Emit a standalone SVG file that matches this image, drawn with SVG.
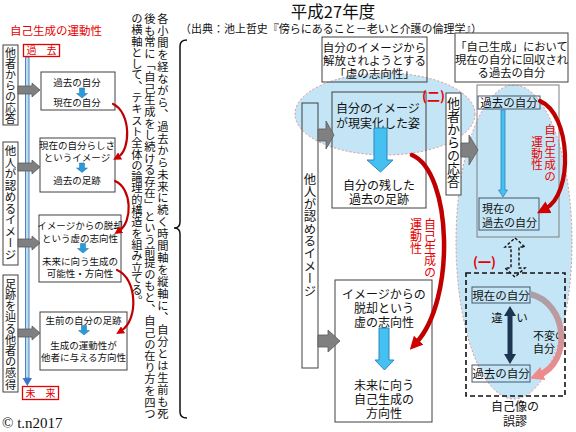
<svg xmlns="http://www.w3.org/2000/svg" width="576" height="432" viewBox="0 0 576 432">
<defs>
<style>
text{font-family:"Noto Sans CJK JP","Noto Sans CJK SC",sans-serif;fill:#111;}
.v{writing-mode:vertical-rl;}
.red{fill:#e60000;}
.c{text-anchor:middle;}
.box{fill:#fff;stroke:#404040;stroke-width:1;}
.obox{fill:none;stroke:#404040;stroke-width:1;}
.gbox{fill:none;stroke:#44596a;stroke-width:1;}
.gray{fill:#808080;stroke:#5a5a5a;stroke-width:0.8;}
.sblue{fill:#2a9ad8;stroke:#1b6fa8;stroke-width:0.5;}
.bblue{fill:#45c0f0;stroke:#2a88c0;stroke-width:1;}
.rc{fill:none;stroke:#c00000;stroke-linecap:round;}
.fs10{font-size:9.5px;}
.fs12{font-size:11.5px;}
</style>
<linearGradient id="pg" x1="0" y1="0" x2="0" y2="1">
<stop offset="0" stop-color="#a8a0a8"/>
<stop offset="1" stop-color="#f08a8a"/>
</linearGradient>
<marker id="ahS" viewBox="0 0 10 10" refX="3" refY="5" markerUnits="userSpaceOnUse" markerWidth="8" markerHeight="8" orient="auto"><path d="M0,0 L10,5 L0,10 Z" fill="#d00000"/></marker>
<marker id="ahM" viewBox="0 0 10 10" refX="3" refY="5" markerUnits="userSpaceOnUse" markerWidth="13" markerHeight="13" orient="auto"><path d="M0,0 L10,5 L0,10 Z" fill="#d00000"/></marker>
<marker id="ahP" viewBox="0 0 10 10" refX="3" refY="5" markerUnits="userSpaceOnUse" markerWidth="14" markerHeight="14" orient="auto"><path d="M0,0 L10,5 L0,10 Z" fill="#f08a8a"/></marker>
</defs>
<rect width="576" height="432" fill="#fff"/>

<!-- background ellipses -->
<g id="ellipse-two"><ellipse cx="385" cy="114" rx="90" ry="41" fill="#c4e5f5" stroke="#e07878" stroke-width="0.8" stroke-dasharray="2,2"/></g>
<g id="ellipse-one"><ellipse cx="514" cy="242" rx="58" ry="157" fill="#c4e5f5" stroke="#e07878" stroke-width="0.8" stroke-dasharray="2,2"/></g>

<!-- LEFT PANEL -->
<g id="left-title"><text x="10" y="35" class="red" font-size="11.5">自己生成の運動性</text></g>
<g id="timeline"><rect x="25.5" y="57" width="3.5" height="321" fill="#bcdcf0" stroke="#3b78c0" stroke-width="0.9"/><path d="M22.5,378 L32,378 L27.25,386 Z" fill="#3b78c0"/></g>
<g id="past"><rect x="23.5" y="44.5" width="36" height="12" fill="#fff" stroke="#e60000" stroke-width="1.3"/><text x="41.5" y="54" class="red c" font-size="10">過　去</text></g>
<g id="future"><rect x="22.5" y="386.5" width="36" height="13" fill="#fff" stroke="#e60000" stroke-width="1.3"/><text x="40.5" y="397" class="red c" font-size="10">未　来</text></g>

<g id="side-a"><rect x="3" y="45" width="15" height="80" class="box"/><text x="10.5" y="47" class="v" font-size="11">他者からの応答</text></g>
<g id="side-b"><rect x="3" y="142" width="15" height="123" class="box"/><text x="10.5" y="145" class="v" font-size="11.5">他人が認めるイメージ</text></g>
<g id="side-c"><rect x="3" y="275" width="15" height="117" class="box"/><text x="10.5" y="278" class="v" font-size="11.2">足跡を辿る他者の感得</text></g>

<g id="box1"><rect x="41" y="72" width="74" height="38" class="box"/>
<text x="77" y="86" class="c fs10">過去の自分</text>
<path d="M79.5,88 L84.5,88 L84.5,93.5 L87.5,93.5 L82,98 L76.5,93.5 L79.5,93.5 Z" class="sblue"/>
<text x="77" y="106" class="c fs10">現在の自分</text></g>

<g id="box2"><rect x="40" y="138" width="75" height="54" class="box"/>
<text x="77" y="149" class="c fs10">現在の自分らしさ</text>
<text x="77" y="161" class="c fs10">というイメージ</text>
<path d="M79.5,163 L84.5,163 L84.5,168 L87.5,168 L82,172.5 L76.5,168 L79.5,168 Z" class="sblue"/>
<text x="77" y="184" class="c fs10">過去の足跡</text></g>

<g id="box3"><rect x="39" y="215" width="82" height="67" class="box"/>
<text x="80" y="229" class="c fs10">イメージからの脱却</text>
<text x="80" y="242" class="c fs10">という虚の志向性</text>
<path d="M80.5,243.5 L85.5,243.5 L85.5,248.5 L88.5,248.5 L83,253 L77.5,248.5 L80.5,248.5 Z" class="sblue"/>
<text x="80" y="265" class="c fs10">未来に向う生成の</text>
<text x="80" y="277" class="c fs10">可能性・方向性</text></g>

<g id="box4"><rect x="40" y="312" width="87" height="58" class="box"/>
<text x="83.5" y="324" class="c fs10">生前の自分の足跡</text>
<path d="M81.5,325.5 L86.5,325.5 L86.5,330.5 L89.5,330.5 L84,335 L78.5,330.5 L81.5,330.5 Z" class="sblue"/>
<text x="83.5" y="349" class="c fs10">生成の運動性が</text>
<text x="83.5" y="361" class="c fs10">他者に与える方向性</text></g>

<!-- DESCRIPTION -->
<g id="description">
<text x="163" y="13" class="v" font-size="11.3" letter-spacing="0.67">各小間を経ながら、過去から未来に続く時間軸を縦軸に、自分とは生前も死</text>
<text x="150" y="13" class="v" font-size="11.3" letter-spacing="0.33">後も常に「自己生成をし続ける存在」という前提のもと、自己の在り方を四つ</text>
<text x="137" y="13" class="v" font-size="11.3">の横軸として、テキスト全体の論理的構造を組み立てる。</text>
<path d="M187,40 Q180,40 180,46 L180,222 Q180,228 174,228 Q180,228 180,234 L180,412 Q180,418 187,418" fill="none" stroke="#111" stroke-width="1.5"/>
</g>

<g id="title"><text x="333" y="18" class="c" font-size="16.5">平成27年度</text>
<text x="180" y="33" font-size="11" textLength="302" lengthAdjust="spacingAndGlyphs">（出典：池上哲史『傍らにあること－老いと介護の倫理学』）</text></g>

<!-- MIDDLE -->
<g id="mid-top"><rect x="322" y="37" width="105" height="45" class="obox"/>
<text x="374.5" y="52" class="c fs12">自分のイメージから</text>
<text x="374.5" y="65" class="c fs12">解放されようとする</text>
<text x="374.5" y="78" class="c fs12">「虚の志向性」</text></g>

<g id="mid-side"><rect x="302" y="103" width="16" height="265" class="obox"/><text x="310" y="173" class="v" font-size="12.4">他人が認めるイメージ</text></g>

<g id="mid-real"><rect x="332" y="92" width="94" height="116" class="obox"/>
<text x="378" y="113" class="c" font-size="12">自分のイメージ</text>
<text x="378" y="128" class="c" font-size="12">が現実化した姿</text>
<path d="M374,128 L387,128 L387,160 L393,160 L380.5,172 L367,160 L374,160 Z" class="bblue"/>
<text x="379" y="190" class="c" font-size="12">自分の残した</text>
<text x="379" y="204" class="c" font-size="12">過去の足跡</text></g>
<g id="label-two"><text x="422" y="101" class="red" font-size="13" font-weight="bold">(二)</text></g>

<g id="mid-virtual"><rect x="335" y="280" width="97" height="142" class="obox"/>
<text x="384" y="299" class="c" font-size="12">イメージからの</text>
<text x="384" y="313" class="c" font-size="12">脱却という</text>
<text x="384" y="327" class="c" font-size="12">虚の志向性</text>
<path d="M379,328 L389,328 L389,360 L394,360 L384.5,370 L375,360 L379,360 Z" class="bblue"/>
<text x="384" y="390" class="c" font-size="12">未来に向う</text>
<text x="384" y="404" class="c" font-size="12">自己生成の</text>
<text x="384" y="418" class="c" font-size="12">方向性</text></g>

<g id="mid-red-label"><text x="430" y="218" class="v red" font-size="12">自己生成の</text><text x="416" y="218" class="v red" font-size="12">運動性</text></g>

<!-- RIGHT -->
<g id="right-top"><rect x="455" y="33" width="113" height="49" class="box"/>
<text x="511.5" y="51" class="c" font-size="11.3">「自己生成」において</text>
<text x="511.5" y="64" class="c" font-size="11.3">現在の自分に回収され</text>
<text x="511.5" y="77" class="c" font-size="11.3">る過去の自分</text></g>

<g id="right-side"><rect x="446" y="93" width="15" height="102" class="box"/><text x="453.5" y="97" class="v" font-size="13">他者からの応答</text></g>

<g id="right-frame"><rect x="477" y="85" width="82" height="152" fill="none" stroke="#808080" stroke-width="1"/></g>
<g id="right-past"><rect x="478" y="96" width="62" height="13" class="gbox"/><text x="509" y="107" class="c fs12">過去の自分</text></g>
<g id="right-arrow"><path d="M501,110 L505,110 L505,190 L507.5,190 L503,197 L498.5,190 L501,190 Z" fill="#45c0f0" stroke="#2a88c0" stroke-width="0.8"/></g>
<g id="right-current-past"><rect x="479" y="198" width="60" height="32" class="gbox"/><text x="482" y="213" font-size="11">現在の</text><text x="482" y="226.5" font-size="11">過去の自分</text></g>
<g id="right-red-label"><text x="550" y="124" class="v red" font-size="11.6">自己生成の</text><text x="537" y="136" class="v red" font-size="11.6">運動性</text></g>

<g id="label-one"><text x="473" y="267" class="red" font-size="13" font-weight="bold">(一)</text></g>
<g id="dash-arrow"><path d="M515,238 L525,247 L519,247 L519,268 L525,268 L515,277 L505,268 L511,268 L511,247 L505,247 Z" fill="none" stroke="#111" stroke-width="1.4" stroke-dasharray="3,2"/></g>

<g id="misperception"><rect x="466" y="273" width="99" height="123" fill="none" stroke="#111" stroke-width="1.6" stroke-dasharray="5,3"/>
<text x="515" y="411" class="c" font-size="12">自己像の</text><text x="515" y="426" class="c" font-size="12">誤謬</text></g>
<g id="mis-current"><rect x="472" y="287" width="58" height="16" class="gbox"/><text x="501" y="300" class="c fs12">現在の自分</text></g>
<g id="mis-past"><rect x="472" y="365" width="58" height="17" class="gbox"/><text x="501" y="378" class="c fs12">過去の自分</text></g>
<g id="difference"><path d="M510,306 L516,316 L512.5,316 L512.5,354 L516,354 L510,364 L504,354 L507.5,354 L507.5,316 L504,316 Z" fill="#1c3550"/>
<text x="497" y="322" class="c fs12">違</text><text x="522" y="322" class="c fs12">い</text></g>
<g id="unchanged"><text x="533" y="340" font-size="11">不変の</text><text x="533" y="353" font-size="11">自分</text></g>

<!-- CONNECTORS -->
<g id="connectors">
<g class="gray">
<path d="M18,86 L32,86 L32,83 L40,90 L32,97 L32,94 L18,94 Z"/>
<path d="M18,163 L32,163 L32,160 L40,167 L32,174 L32,171 L18,171 Z"/>
<path d="M18,239 L32,239 L32,236 L40,243 L32,250 L32,247 L18,247 Z"/>
<path d="M18,329 L32,329 L32,326 L40,333 L32,340 L32,337 L18,337 Z"/>
<path d="M318,129 L326,129 L326,121 L334,135 L326,149 L326,141 L318,141 Z"/>
<path d="M318,335 L328,335 L328,330 L340,341 L328,352 L328,347 L318,347 Z"/>
<path d="M461,143 L469,143 L469,135 L478,150 L469,165 L469,157 L461,157 Z"/>
</g>
<path d="M113,104 C131,112 131,150 118,157" class="rc" stroke-width="2.2" marker-end="url(#ahS)"/>
<path d="M115,181 C132,188 133,222 119,231" class="rc" stroke-width="2.2" marker-end="url(#ahS)"/>
<path d="M117,270 C137,278 139,320 121,331" class="rc" stroke-width="2.2" marker-end="url(#ahS)"/>
<path d="M412,155 C452,172 456,300 416,343" class="rc" stroke-width="4.5" marker-end="url(#ahM)"/>
<path d="M540,101 C571,114 574,194 545,209" class="rc" stroke-width="4.2" marker-end="url(#ahM)"/>
<path d="M530,294 C568,303 572,362 539,375" fill="none" stroke="url(#pg)" stroke-width="6" marker-end="url(#ahP)"/>
</g>

<g id="copyright"><text x="2" y="428" style="font-family:'Liberation Serif',serif" font-size="15">© t.n2017</text></g>
</svg>
